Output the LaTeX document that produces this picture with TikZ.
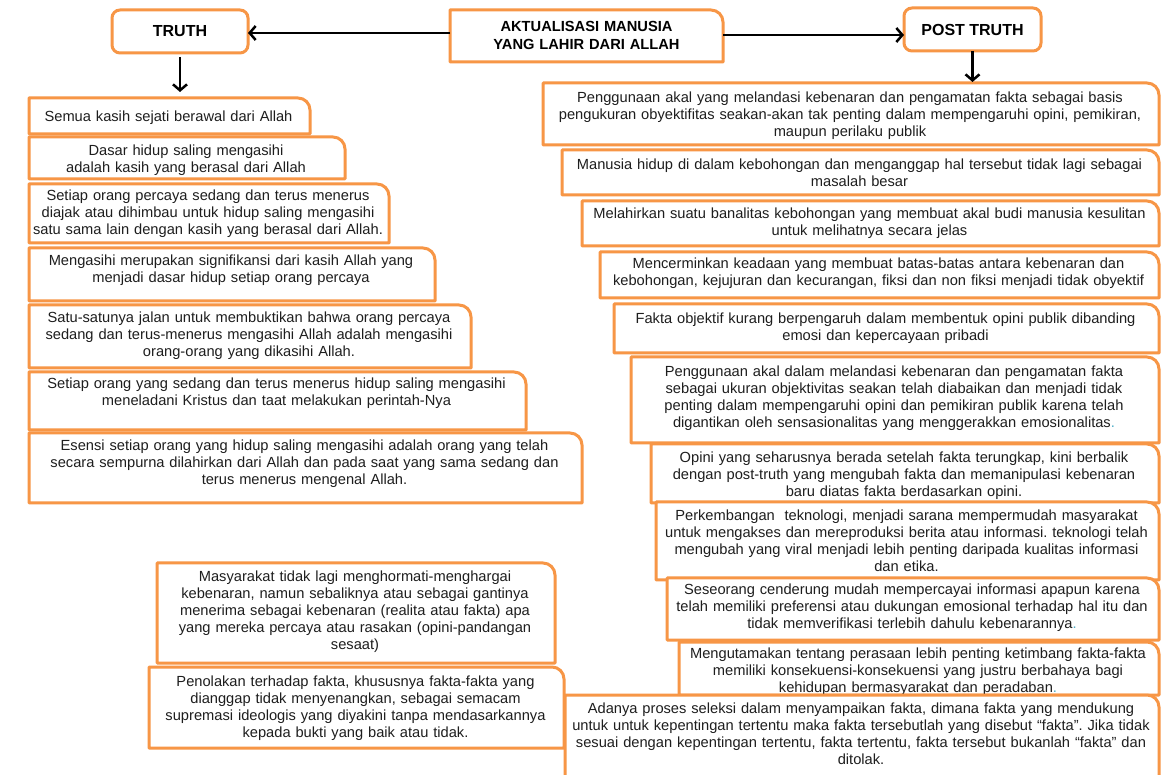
\documentclass[tikz,border=0pt]{standalone}
\usepackage{fontspec}
\setmainfont{Liberation Sans}
\usetikzlibrary{arrows.meta}
\definecolor{org}{HTML}{F79646}
\definecolor{txc}{HTML}{1E1E1E}
\definecolor{dotc}{HTML}{4BACC6}
\frenchspacing
\def\rr{12pt}
\tikzset{
  boxn/.style={draw=none, inner sep=0pt, outer sep=0pt, rectangle},
  tb/.style={draw=org, line width=3pt, fill=white, line join=round},
  txt/.style={anchor=base, align=center, inner sep=0pt, text=txc,
    font=\frenchspacing\fontsize{14.67}{16.9}\selectfont},
  ttlbox/.style={draw=org, line width=3pt, fill=white, rounded corners=8pt,
    inner sep=0pt, outer sep=0pt, text=black,
    font=\bfseries\fontsize{16}{18}\selectfont},
  arr/.style={draw=black, line width=2.5pt, -{Straight Barb[length=6pt,width=14pt]}},
}
\newcommand\tbx[7]{%
  \pgfmathsetmacro\bw{#4-#2}\pgfmathsetmacro\bh{#5-#3}%
  \pgfmathsetmacro\bcx{(#2+#4)/2}\pgfmathsetmacro\bcy{(#3+#5)/2}%
  \pgfmathsetmacro\tw{#4-#2+40}\pgfmathsetmacro\tby{#6+3.8}%
  \node[boxn, minimum width=\bw pt, minimum height=\bh pt] (#1) at (\bcx,\bcy) {};
  \draw[tb] (#1.south west) -- (#1.north west) -- ([xshift=-\rr]#1.north east)
     .. controls ([xshift=-0.45*\rr]#1.north east) and ([yshift=-0.45*\rr]#1.north east)
     .. ([yshift=-\rr]#1.north east) -- (#1.south east) -- cycle;
  \node[txt, text width=\tw pt] (#1t) at (\bcx-1,\tby) {#7};
}
\begin{document}
\begin{tikzpicture}[x=1pt,y=-1pt]
\useasboundingbox[fill=white] (0,0) rectangle (1163,775);

% ---- top row ----
\node[ttlbox, minimum width=136pt, minimum height=43pt] (truth) at (180,31.5) {TRUTH};
\node[ttlbox, minimum width=137pt, minimum height=43pt] (post) at (972.5,29.5) {POST TRUTH};
\node[boxn, minimum width=273pt, minimum height=52pt] (akt) at (586.5,36) {};
\draw[tb] (akt.south west) -- (akt.north west) -- ([xshift=-\rr]akt.north east)
   .. controls ([xshift=-0.45*\rr]akt.north east) and ([yshift=-0.45*\rr]akt.north east)
   .. ([yshift=-\rr]akt.north east) -- (akt.south east) -- cycle;
\node[txt, text=black, font=\bfseries\fontsize{14.67}{18}\selectfont, text width=300pt]
  (aktt) at (586.5,31.2) {AKTUALISASI MANUSIA\\YANG LAHIR DARI ALLAH};

% ---- left column ----
\tbx{b1}{29}{98}{310}{134}{118}{Semua kasih sejati berawal dari Allah}
\tbx{b2}{29}{137}{345}{179}{152}{Dasar hidup saling mengasihi\\adalah kasih yang berasal dari Allah}
\tbx{b3}{29}{184}{389}{243}{197}{Setiap orang percaya sedang dan terus menerus\\diajak atau dihimbau untuk hidup saling mengasihi\\satu sama lain dengan kasih yang berasal dari Allah.}
\tbx{b4}{29}{248}{435}{301}{262}{Mengasihi merupakan signifikansi dari kasih Allah yang\\menjadi dasar hidup setiap orang percaya}
\tbx{b5}{29}{305}{471}{368}{319}{Satu-satunya jalan untuk membuktikan bahwa orang percaya\\sedang dan terus-menerus mengasihi Allah adalah mengasihi\\orang-orang yang dikasihi Allah.}
\tbx{b6}{29}{372}{526}{430}{385}{Setiap orang yang sedang dan terus menerus hidup saling mengasihi\\meneladani Kristus dan taat melakukan perintah-Nya}
\tbx{b7}{29}{433}{582}{503}{447}{Esensi setiap orang yang hidup saling mengasihi adalah orang yang telah\\secara sempurna dilahirkan dari Allah dan pada saat yang sama sedang dan\\terus menerus mengenal Allah.}

% ---- lower left ----
\tbx{l8}{157}{563}{555}{663}{578}{Masyarakat tidak lagi menghormati-menghargai\\kebenaran, namun sebaliknya atau sebagai gantinya\\menerima sebagai kebenaran (realita atau fakta) apa\\yang mereka percaya atau rasakan (opini-pandangan\\sesaat)}
\tbx{l9}{149}{667}{564}{748}{683}{Penolakan terhadap fakta, khususnya fakta-fakta yang\\dianggap tidak menyenangkan, sebagai semacam\\supremasi ideologis yang diyakini tanpa mendasarkannya\\kepada bukti yang baik atau tidak.}

% ---- right column ----
\tbx{r1}{543}{83}{1159}{145}{99}{Penggunaan akal yang melandasi kebenaran dan pengamatan fakta sebagai basis\\pengukuran obyektifitas seakan-akan tak penting dalam mempengaruhi opini, pemikiran,\\maupun perilaku publik}
\tbx{r2}{562}{150}{1159}{195}{166}{Manusia hidup di dalam kebohongan dan menganggap hal tersebut tidak lagi sebagai\\masalah besar}
\tbx{r3}{582}{201}{1159}{246}{215}{Melahirkan suatu banalitas kebohongan yang membuat akal budi manusia kesulitan\\untuk melihatnya secara jelas}
\tbx{r4}{600}{252}{1159}{298}{265}{Mencerminkan keadaan yang membuat batas-batas antara kebenaran dan\\kebohongan, kejujuran dan kecurangan, fiksi dan non fiksi menjadi tidak obyektif}
\tbx{r5}{614}{304}{1159}{353}{320}{Fakta objektif kurang berpengaruh dalam membentuk opini publik dibanding\\emosi dan kepercayaan pribadi}
\tbx{r6}{631}{357}{1159}{443}{373}{Penggunaan akal dalam melandasi kebenaran dan pengamatan fakta\\sebagai ukuran objektivitas seakan telah diabaikan dan menjadi tidak\\penting dalam mempengaruhi opini dan pemikiran publik karena telah\\digantikan oleh sensasionalitas yang menggerakkan emosionalitas\textcolor{dotc}{.}}
\tbx{r7}{651}{444}{1159}{503}{459}{Opini yang seharusnya berada setelah fakta terungkap, kini berbalik\\dengan post-truth yang mengubah fakta dan memanipulasi kebenaran\\baru diatas fakta berdasarkan opini.}
\tbx{r8}{656}{502}{1159}{580}{517}{Perkembangan\ \ teknologi, menjadi sarana mempermudah masyarakat\\untuk mengakses dan mereproduksi berita atau informasi. teknologi telah\\mengubah yang viral menjadi lebih penting daripada kualitas informasi\\dan etika.}
\tbx{r9}{667}{578}{1159}{640}{591}{Seseorang cenderung mudah mempercayai informasi apapun karena\\telah memiliki preferensi atau dukungan emosional terhadap hal itu dan\\tidak memverifikasi terlebih dahulu kebenarannya\textcolor{dotc}{.}}
\tbx{r10}{679}{642}{1159}{695}{655}{Mengutamakan tentang perasaan lebih penting ketimbang fakta-fakta\\memiliki konsekuensi-konsekuensi yang justru berbahaya bagi\\kehidupan bermasyarakat dan peradaban\textcolor{dotc}{.}}
\tbx{r11}{565}{695}{1159}{790}{710}{Adanya proses seleksi dalam menyampaikan fakta, dimana fakta yang mendukung\\untuk untuk kepentingan tertentu maka fakta tersebutlah yang disebut “fakta”. Jika tidak\\sesuai dengan kepentingan tertentu, fakta tertentu, fakta tersebut bukanlah “fakta” dan\\ditolak.}

% ---- connectors ----
\coordinate (ya) at (0,33);
\coordinate (yb) at (0,35);
\draw[arr] (akt.west |- ya) -- (truth.east |- ya);
\draw[arr] (akt.east |- yb) -- (post.west |- yb);
\coordinate (b1top) at (181,92);
\draw[arr] ([yshift=-4pt]truth.south) -- (b1top -| truth.south);
\draw[arr] (post.south) -- ([yshift=1pt]r1.north -| post.south);
\end{tikzpicture}
\end{document}
